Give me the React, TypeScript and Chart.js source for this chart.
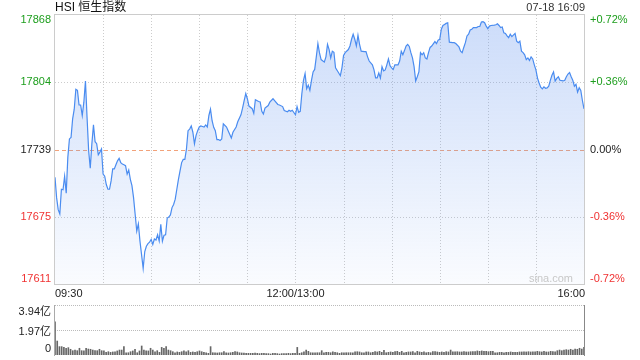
import React, { useEffect, useRef } from 'react';
import { Chart, registerables } from 'chart.js';

Chart.register(...registerables);

const title = 'HSI 恒生指数';
const stamp = '07-18 16:09';
const watermark = 'sina.com';
const priceTicks = [17611, 17675, 17739, 17804, 17868];
const pctLabels = ['-0.72%', '-0.36%', '0.00%', '+0.36%', '+0.72%'];
const timeTicks = [0, 150, 330];
const timeLabels = ['09:30', '12:00/13:00', '16:00'];
const gridMinutes = [30, 60, 90, 120, 150, 180, 210, 240, 270, 300];
const volTicks = [0, 1.97, 3.94];
const volLabels = ['0', '1.97亿', '3.94亿'];

// minutes after 09:30 (lunch break removed)
const minutes = [
  0, 1, 2, 3, 4, 5, 6, 7, 8, 9,
  10, 11, 12, 13, 14, 15, 16, 17, 18, 19,
  20, 21, 22, 23, 24, 25, 26, 27, 28, 29,
  30, 31, 32, 33, 34, 35, 36, 37, 38, 39,
  40, 41, 42, 43, 44, 45, 46, 47, 48, 49,
  50, 51, 52, 53, 54, 55, 56, 57, 58, 59,
  60, 61, 62, 63, 64, 65, 66, 67, 68, 69,
  70, 71, 72, 73, 74, 75, 76, 77, 78, 79,
  80, 81, 82, 83, 84, 85, 86, 87, 88, 89,
  90, 91, 92, 93, 94, 95, 96, 97, 98, 99,
  100, 101, 102, 103,
  104, 105, 107, 108, 110, 111, 113, 114, 116, 117,
  118, 119, 120, 121, 123, 124, 125, 127, 128, 129,
  130, 131, 133, 134, 136, 137, 139, 140, 142, 143,
  145, 146, 147, 148, 150, 151, 152, 153, 154, 155,
  156, 157, 158, 159, 160, 161, 162, 163, 164, 165,
  166, 168, 169, 170, 171, 172, 173, 174, 175, 177,
  178, 179, 180, 181, 183, 184, 185, 186, 187, 188,
  189, 190, 191, 193, 194, 195, 196, 198, 199, 200,
  201, 202, 203, 204, 205, 206, 207, 208, 209, 210,
  211, 212, 213, 214, 215, 216, 217, 218, 219, 220,
  221, 222, 223, 224, 225, 226, 227, 228, 229, 230,
  231, 232, 233, 234, 235, 237, 238, 239, 240, 241,
  242, 243, 244, 245, 246, 248, 249, 250, 252, 253,
  254, 255, 256, 257, 258, 259, 260, 261, 263, 264,
  265, 266, 267, 268, 269, 270, 271, 272, 274, 275,
  276, 277, 278, 279, 280, 281, 282, 283, 284, 285,
  287, 288, 289, 290, 291, 292, 293, 294, 295, 296,
  297, 298, 299, 300, 301, 302, 303, 304, 305, 306,
  307, 308, 309, 310, 311, 312, 313, 314, 315, 317,
  318, 319, 320, 321, 322, 323, 324, 325, 326, 327,
  328, 329, 330,
];

const prices = [
  17713, 17693.5, 17682, 17678, 17701.5, 17701, 17714, 17697.7, 17732, 17749.6,
  17751, 17768.8, 17778, 17797, 17796, 17782, 17782, 17772, 17784.7, 17805,
  17770, 17738, 17721.7, 17745, 17763, 17747, 17745, 17734.5, 17737, 17740,
  17716, 17714, 17706, 17701.5, 17701.5, 17709.5, 17721, 17721, 17725, 17728.7,
  17731, 17727, 17725.6, 17725, 17724, 17716, 17720, 17711, 17705, 17693.5,
  17677.6, 17661.5, 17668.5, 17652, 17639, 17626, 17642, 17647, 17649.6, 17651,
  17653.6, 17648.8, 17654, 17653, 17658, 17652, 17668, 17652, 17657.6, 17658,
  17674, 17675, 17677, 17684, 17687, 17692, 17701.5, 17711, 17719, 17727,
  17730, 17730, 17740, 17757.5, 17759, 17762, 17756, 17745, 17753, 17757.5,
  17761, 17762, 17761.5, 17761, 17763, 17761, 17772, 17778, 17767, 17760.7,
  17757.5, 17749, 17749, 17748,
  17749.5, 17764, 17761, 17757.5, 17750.5, 17756, 17761, 17766, 17772.6, 17779,
  17786.3, 17793, 17788, 17781, 17778.5, 17774, 17787, 17785.4, 17785, 17776,
  17773.5, 17779, 17781.5, 17784.7, 17788, 17786.3, 17782.5, 17782, 17780.5, 17776.7,
  17775.6, 17777, 17776, 17777, 17772.6, 17780.5, 17775, 17776, 17793, 17805.6,
  17812, 17797.6, 17801, 17796, 17805.6, 17813.6, 17816, 17828, 17840.7, 17831.8,
  17825.4, 17823, 17828, 17839.9, 17835, 17827, 17833.4, 17832.4, 17817.5, 17812.6,
  17810, 17817.5, 17829.3, 17832, 17835, 17838.4, 17844.8, 17849.6, 17844.8, 17838.4,
  17848.6, 17840, 17833.4, 17833, 17833, 17828, 17824, 17820.4, 17815.6, 17808,
  17808, 17812.6, 17807.7, 17818.6, 17814.6, 17815.5, 17820.4, 17826, 17819.6, 17817.5,
  17816, 17820.4, 17820.4, 17820.4, 17824, 17833.4, 17830, 17834, 17838.4, 17840,
  17838, 17832, 17827, 17818.6, 17805, 17809, 17813.6, 17832, 17830, 17832,
  17827, 17826, 17832, 17837, 17838.4, 17842.6, 17840.7, 17844, 17844.8, 17854.4,
  17858, 17859, 17860, 17860.6, 17842, 17841.6, 17841.6, 17840.7, 17837.5, 17833.4,
  17832, 17837, 17841.6, 17848, 17849.6, 17853.7, 17854.4, 17856, 17856, 17857,
  17857, 17861.3, 17861.6, 17860.6, 17857.4, 17855, 17857.4, 17858, 17858.3, 17858.7,
  17859.6, 17858, 17856, 17856.5, 17851, 17850.4, 17848, 17846.3, 17849.6, 17847.4,
  17850.4, 17843, 17841.6, 17843, 17833.4, 17832, 17830, 17825.4, 17827, 17824.5,
  17828, 17826, 17820.4, 17815.6, 17807.7, 17803, 17799, 17797.4, 17799.4, 17798,
  17798.3, 17800, 17805.6, 17810.4, 17813.6, 17804.9, 17807.5, 17809, 17805.6, 17805,
  17805.6, 17809, 17811.6, 17813, 17809, 17805.6, 17800, 17801.8, 17794.3, 17798.5,
  17796, 17786.3, 17778.4,
];

// turnover per bar, in 亿
const volumes = [
  2.62, 1.10, 0.66, 0.66, 0.60, 0.53, 0.58, 0.45, 0.34, 0.39,
  0.34, 0.53, 0.34, 0.32, 0.53, 0.47, 0.45, 0.39, 0.34, 0.34,
  0.45, 0.34, 0.32, 0.21, 0.26, 0.21, 0.24, 0.24, 0.32, 0.39,
  0.39, 0.66, 0.18, 0.18, 0.26, 0.32, 0.45, 0.18, 0.32, 0.71,
  0.39, 0.32, 0.32, 0.53, 0.39, 0.24, 0.34, 0.21, 0.60, 0.53,
  0.66, 0.39, 0.34, 0.26, 0.18, 0.24, 0.21, 0.26, 0.32, 0.24,
  0.34, 0.21, 0.24, 0.21, 0.26, 0.32, 0.26, 0.21, 0.18, 0.13,
  0.66, 0.18, 0.18, 0.16, 0.18, 0.18, 0.26, 0.18, 0.16, 0.18,
  0.21, 0.26, 0.24, 0.18, 0.16, 0.16, 0.13, 0.13, 0.13, 0.13,
  0.16, 0.13, 0.11, 0.13, 0.13, 0.11, 0.11, 0.08, 0.13, 0.13,
  0.11, 0.08, 0.11, 0.11, 0.11, 0.13, 0.11, 0.13, 0.13, 0.60,
  0.13, 0.18, 0.24, 0.39, 0.29, 0.18, 0.18, 0.18, 0.18, 0.18,
  0.34, 0.18, 0.21, 0.21, 0.18, 0.24, 0.21, 0.18, 0.13, 0.18,
  0.18, 0.18, 0.18, 0.18, 0.18, 0.24, 0.26, 0.24, 0.18, 0.18,
  0.24, 0.24, 0.18, 0.21, 0.26, 0.24, 0.29, 0.21, 0.37, 0.18,
  0.21, 0.24, 0.21, 0.26, 0.29, 0.21, 0.29, 0.18, 0.21, 0.24,
  0.24, 0.26, 0.18, 0.29, 0.24, 0.21, 0.24, 0.18, 0.21, 0.18,
  0.26, 0.26, 0.24, 0.21, 0.24, 0.21, 0.26, 0.24, 0.39, 0.24,
  0.24, 0.26, 0.24, 0.24, 0.26, 0.24, 0.24, 0.26, 0.26, 0.26,
  0.32, 0.29, 0.32, 0.29, 0.29, 0.26, 0.29, 0.29, 0.18, 0.18,
  0.21, 0.21, 0.18, 0.21, 0.21, 0.24, 0.21, 0.21, 0.21, 0.24,
  0.24, 0.24, 0.24, 0.26, 0.24, 0.24, 0.24, 0.29, 0.26, 0.24,
  0.29, 0.24, 0.24, 0.29, 0.26, 0.24, 0.34, 0.39, 0.34, 0.39,
  0.42, 0.39, 0.45, 0.39, 0.47, 0.45, 0.53, 0.47, 0.60,
];

const FONT = '"Liberation Sans", Arial, sans-serif';
const CJK_FONT = '"Liberation Sans", Arial, "Noto Sans CJK SC", sans-serif';
const GREEN = '#1d9e1d';
const RED = '#f03232';
const INK = '#222222';
const GRID = '#cccccc';

const colorFor = (v: number) => (v < priceTicks[2] ? RED : v > priceTicks[2] ? GREEN : INK);

const mainDecor = {
  id: 'mainDecor',
  beforeDatasetsDraw(chart: any) {
    const { ctx, chartArea: a } = chart;
    const xs = chart.scales.x;
    const ys = chart.scales.y;
    ctx.save();
    ctx.lineWidth = 1;
    ctx.strokeStyle = GRID;
    ctx.setLineDash([1, 2]);
    gridMinutes.forEach((m) => {
      const px = Math.round(xs.getPixelForValue(m)) + 0.5;
      ctx.beginPath();
      ctx.moveTo(px, a.top);
      ctx.lineTo(px, a.bottom);
      ctx.stroke();
    });
    priceTicks.forEach((v, i) => {
      if (i === 0 || i === priceTicks.length - 1) return;
      const py = Math.round(ys.getPixelForValue(v)) + 0.5;
      if (v === priceTicks[2]) {
        ctx.strokeStyle = '#f2a27a';
        ctx.setLineDash([4, 3]);
      } else {
        ctx.strokeStyle = GRID;
        ctx.setLineDash([1, 2]);
      }
      ctx.beginPath();
      ctx.moveTo(a.left, py);
      ctx.lineTo(a.right, py);
      ctx.stroke();
    });
    ctx.restore();
  },
  afterDraw(chart: any) {
    const { ctx, chartArea: a } = chart;
    const xs = chart.scales.x;
    const ys = chart.scales.y;
    ctx.save();
    // frame
    ctx.strokeStyle = GRID;
    ctx.lineWidth = 1;
    ctx.setLineDash([]);
    ctx.strokeRect(Math.round(a.left) - 0.5, Math.round(a.top) - 0.5, Math.round(a.right - a.left) + 1, Math.round(a.bottom - a.top) + 1);

    // title & time stamp
    ctx.textBaseline = 'middle';
    ctx.font = `12px ${CJK_FONT}`;
    ctx.fillStyle = '#111';
    ctx.textAlign = 'left';
    ctx.fillText(title, a.left, 8);
    ctx.font = `11px ${FONT}`;
    ctx.fillStyle = '#333';
    ctx.textAlign = 'right';
    ctx.fillText(stamp, a.right + 1, 8);

    // y labels (clamped inside the frame)
    ctx.font = `11px ${FONT}`;
    priceTicks.forEach((v, i) => {
      let py = ys.getPixelForValue(v);
      py = Math.max(a.top + 5, Math.min(a.bottom - 5.5, py));
      ctx.fillStyle = colorFor(v);
      ctx.textAlign = 'right';
      ctx.fillText(String(v), a.left - 4, py);
      ctx.textAlign = 'left';
      ctx.fillText(pctLabels[i], a.right + 6, py);
    });

    // x labels
    ctx.fillStyle = INK;
    timeTicks.forEach((m, i) => {
      const px = xs.getPixelForValue(m);
      ctx.textAlign = i === 0 ? 'left' : i === timeTicks.length - 1 ? 'right' : 'center';
      ctx.fillText(timeLabels[i], px + (i === timeTicks.length - 1 ? 1 : 0), a.bottom + 9.5);
    });

    // watermark
    ctx.fillStyle = '#c8c8c8';
    ctx.textAlign = 'right';
    ctx.fillText(watermark, a.right - 11, a.bottom - 5);
    ctx.restore();
  },
};

const volDecor = {
  id: 'volDecor',
  beforeDatasetsDraw(chart: any) {
    const { ctx, chartArea: a } = chart;
    const ys = chart.scales.y;
    ctx.save();
    ctx.lineWidth = 1;
    ctx.strokeStyle = '#bbbbbb';
    ctx.setLineDash([1, 1]);
    volTicks.forEach((v) => {
      if (v === 0) return;
      const py = Math.round(ys.getPixelForValue(v)) + 0.5;
      ctx.beginPath();
      ctx.moveTo(a.left, py);
      ctx.lineTo(a.right, py);
      ctx.stroke();
    });
    ctx.restore();
  },
  afterDraw(chart: any) {
    const { ctx, chartArea: a } = chart;
    const ys = chart.scales.y;
    ctx.save();
    ctx.lineWidth = 1;
    ctx.setLineDash([]);
    ctx.strokeStyle = '#aaaaaa';
    ctx.beginPath();
    ctx.moveTo(Math.round(a.left) - 0.5, a.top);
    ctx.lineTo(Math.round(a.left) - 0.5, a.bottom + 1);
    ctx.stroke();
    ctx.strokeStyle = '#888888';
    ctx.beginPath();
    ctx.moveTo(Math.round(a.right) + 0.5, a.top);
    ctx.lineTo(Math.round(a.right) + 0.5, a.bottom + 1);
    ctx.stroke();

    ctx.font = `11px ${CJK_FONT}`;
    ctx.fillStyle = INK;
    ctx.textAlign = 'right';
    ctx.textBaseline = 'middle';
    volTicks.forEach((v, i) => {
      let py = ys.getPixelForValue(v);
      py = Math.max(a.top + 7, Math.min(a.bottom - 6, py + 1.5));
      ctx.fillText(volLabels[i], a.left - 4, py);
    });
    ctx.restore();
  },
};

export default function App() {
  const mainRef = useRef<HTMLCanvasElement>(null);
  const volRef = useRef<HTMLCanvasElement>(null);

  useEffect(() => {
    const main = new Chart(mainRef.current as HTMLCanvasElement, {
      type: 'line',
      data: {
        datasets: [
          {
            data: minutes.map((m, i) => ({ x: m, y: prices[i] })),
            borderColor: '#4a8cf0',
            borderWidth: 1.2,
            pointRadius: 0,
            tension: 0,
            fill: 'start',
            backgroundColor: (c: any) => {
              const ch = c.chart;
              const a = ch.chartArea;
              if (!a) return 'rgba(100,150,240,0.2)';
              const g = ch.ctx.createLinearGradient(0, a.top, 0, a.bottom);
              g.addColorStop(0, 'rgba(96,146,238,0.32)');
              g.addColorStop(1, 'rgba(96,146,238,0.03)');
              return g;
            },
          },
        ],
      },
      options: {
        responsive: false,
        animation: false,
        events: [],
        layout: { padding: { left: 55, right: 56, top: 15, bottom: 16 } },
        plugins: { legend: { display: false }, tooltip: { enabled: false } },
        scales: {
          x: { type: 'linear', min: 0, max: 330, display: false },
          y: { type: 'linear', min: priceTicks[0], max: priceTicks[priceTicks.length - 1], display: false },
        },
      },
      plugins: [mainDecor],
    } as any);

    const vol = new Chart(volRef.current as HTMLCanvasElement, {
      type: 'bar',
      data: {
        labels: volumes.map((_, i) => String(i)),
        datasets: [
          {
            data: volumes,
            backgroundColor: '#666666',
            barThickness: 1,
            borderWidth: 0,
          },
        ],
      },
      options: {
        responsive: false,
        animation: false,
        events: [],
        layout: { padding: { left: 55, right: 56, top: 5, bottom: 5 } },
        plugins: { legend: { display: false }, tooltip: { enabled: false } },
        scales: {
          x: { type: 'category', offset: false, display: false },
          y: { min: 0, max: volTicks[volTicks.length - 1], display: false },
        },
      },
      plugins: [volDecor],
    } as any);

    return () => {
      main.destroy();
      vol.destroy();
    };
  }, []);

  return (
    <div style={{ position: 'absolute', left: 0, top: 0, width: 640, height: 360, background: '#fff' }}>
      <canvas ref={mainRef} width={640} height={300} style={{ position: 'absolute', left: 0, top: 0 }} />
      <canvas ref={volRef} width={640} height={60} style={{ position: 'absolute', left: 0, top: 300 }} />
    </div>
  );
}
